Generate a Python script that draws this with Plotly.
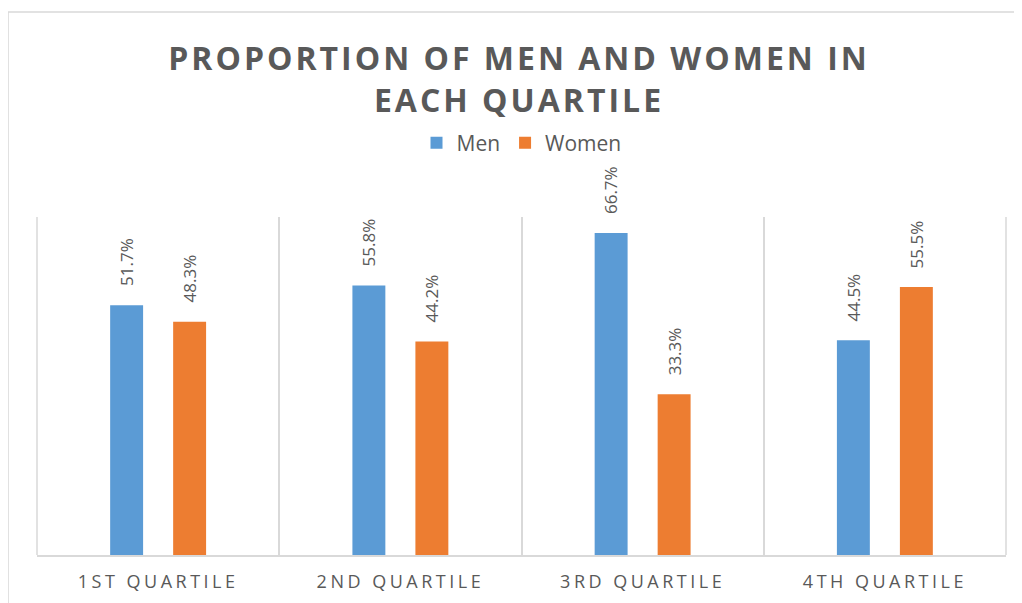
import plotly.graph_objects as go

categories = ["1ST QUARTILE", "2ND QUARTILE", "3RD QUARTILE", "4TH QUARTILE"]
men = [51.7, 55.8, 66.7, 44.5]
women = [48.3, 44.2, 33.3, 55.5]
series_names = ["Men", "Women"]
colors = ["#5B9BD5", "#ED7D31"]

GRAY = "#595959"
LINE = "#D9D9D9"
FONT = "Open Sans"

fig = go.Figure()
for name, vals, col in zip(series_names, [men, women], colors):
    fig.add_trace(go.Bar(name=name, x=categories, y=vals, marker_color=col,
                         marker_line_width=0))

# rotated data labels
bar_off = 0.13
for i, cat in enumerate(categories):
    for vals, off in ((men, -bar_off), (women, bar_off)):
        fig.add_annotation(x=i + off, y=vals[i], text=f"{vals[i]:.1f}%",
                           textangle=-90, showarrow=False, xref="x", yref="y",
                           yanchor="bottom", xanchor="center", yshift=17,
                           font=dict(family=FONT, size=17, color=GRAY))

# outer category boundaries
for xp in (0, 1):
    fig.add_shape(type="line", xref="paper", yref="paper", x0=xp, x1=xp, y0=0, y1=1,
                  line=dict(color=LINE, width=1.5), layer="below")

# chart border (light gray)
fig.add_shape(type="path", xref="paper", yref="paper",
              path="M -0.0299,-0.2 L -0.0299,1.6065 L 1.1,1.6065",
              line=dict(color=LINE, width=1.5))

fig.update_layout(
    width=1022, height=603,
    margin=dict(l=29, r=24, t=209, b=56),
    paper_bgcolor="white", plot_bgcolor="white",
    barmode="group", bargap=0.48, bargroupgap=0.477,
    title=dict(text="PROPORTION OF MEN AND WOMEN IN<br>EACH QUARTILE",
               x=0.5, xanchor="center", y=1 - 62 / 603, yanchor="top",
               font=dict(family=FONT, size=32, color=GRAY, weight="bold")),
    legend=dict(orientation="h", x=0.5, xanchor="center", y=1.219, yanchor="middle",
                font=dict(family=FONT, size=21, color=GRAY), bgcolor="rgba(0,0,0,0)",
                itemwidth=30, tracegroupgap=0),
    showlegend=True,
    xaxis=dict(type="category", tickson="boundaries", showgrid=True,
               gridcolor=LINE, gridwidth=1.5, showline=True,
               linecolor=LINE, linewidth=1.5, ticks="", ticklabelstandoff=10,
               tickfont=dict(family=FONT, size=18, color=GRAY)),
    yaxis=dict(range=[0, 70], showgrid=False, showticklabels=False,
               zeroline=False, showline=False, ticks=""),
)

post = """
var gd = document.getElementById('{plot_id}');
function spacing(){
  gd.querySelectorAll('.gtitle').forEach(function(e){e.style.letterSpacing='3px';});
  gd.querySelectorAll('.xtick text').forEach(function(e){e.style.letterSpacing='3.5px';});
}
spacing();
gd.on('plotly_afterplot', spacing);
"""

fig.write_html("out.html", post_script=post)
